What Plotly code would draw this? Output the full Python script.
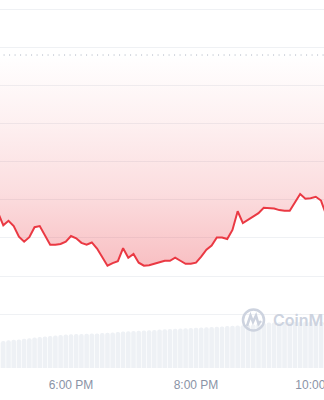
import plotly.graph_objects as go
import pandas as pd

# ---- data (5-minute points) ----
times = pd.date_range("2024-01-15 16:50", "2024-01-15 22:05", freq="5min")
price = [
    1.2066, 1.2033, 1.2045, 1.2031, 1.2003, 1.1990, 1.2002, 1.2028, 1.2031, 1.2008,
    1.1982, 1.1982, 1.1984, 1.1990, 1.2005, 1.1999, 1.1987, 1.1982, 1.1988, 1.1972,
    1.1949, 1.1927, 1.1934, 1.1939, 1.1973, 1.1948, 1.1958, 1.1935, 1.1927, 1.1928,
    1.1932, 1.1936, 1.1940, 1.1940, 1.1948, 1.1940, 1.1932, 1.1932, 1.1935, 1.1951,
    1.1969, 1.1980, 1.2001, 1.2001, 1.1997, 1.2021, 1.2070, 1.2039, 1.2047, 1.2056,
    1.2065, 1.2079, 1.2078, 1.2077, 1.2073, 1.2071, 1.2071, 1.2093, 1.2115, 1.2103,
    1.2104, 1.2108, 1.2098, 1.2060,
]
volume = [
    2.65, 2.70, 2.78, 2.83, 2.86, 2.92, 2.98, 3.04, 3.10, 3.14,
    3.20, 3.26, 3.30, 3.36, 3.38, 3.40, 3.41, 3.43, 3.45, 3.46,
    3.49, 3.53, 3.56, 3.60, 3.64, 3.67, 3.70, 3.72, 3.75, 3.78,
    3.81, 3.84, 3.87, 3.89, 3.92, 3.95, 3.98, 4.00, 4.02, 4.05,
    4.08, 4.10, 4.13, 4.16, 4.19, 4.22, 4.25, 4.27, 4.30, 4.36,
    4.45, 4.50, 4.54, 4.56, 4.58, 4.60, 4.61, 4.62, 4.63, 4.64,
    4.64, 4.65, 4.65, 4.66,
]
open_price = 1.2480
grid_prices = [1.18, 1.19, 1.20, 1.21, 1.22, 1.23, 1.24, 1.25, 1.26]
tick_times = ["2024-01-15 18:00", "2024-01-15 20:00", "2024-01-15 22:00"]

RED = "#ea3943"
W, H = 324, 400
PLOT_H = 368

fig = go.Figure()

fig.add_trace(go.Bar(
    x=times, y=volume, yaxis="y2",
    marker=dict(color="#eef1f5", line=dict(width=0)),
    marker_cornerradius=2,
    hoverinfo="skip",
))

fig.add_trace(go.Scatter(
    x=times, y=[open_price] * len(times),
    mode="lines",
    line=dict(color="#a7afbd", width=1, dash="1px,4.5px"),
    hoverinfo="skip",
))

fig.add_trace(go.Scatter(
    x=times, y=price,
    mode="lines",
    line=dict(color=RED, width=2),
    fill="tonexty",
    fillgradient=dict(
        type="vertical",
        start=min(price), stop=open_price,
        colorscale=[
            [0.0, "rgba(234,57,67,0.32)"],
            [0.35, "rgba(234,57,67,0.17)"],
            [0.7, "rgba(234,57,67,0.07)"],
            [1.0, "rgba(234,57,67,0.0)"],
        ],
    ),
    hoverinfo="skip",
))

# y ranges so that gridlines fall on the reference pixel rows
top_px, step_px = 9.3, 38.1
p_top = 1.26 + top_px / step_px * 0.01
p_bot = 1.26 - (PLOT_H - top_px) / step_px * 0.01

fig.update_layout(
    width=W, height=H,
    margin=dict(l=0, r=0, t=0, b=H - PLOT_H, autoexpand=False),
    paper_bgcolor="white", plot_bgcolor="white",
    showlegend=False,
    bargap=0.12,
    xaxis=dict(
        range=["2024-01-15 16:51:50.4", "2024-01-15 22:02:52.8"],
        tickvals=tick_times, tickformat="%-I:%M %p",
        showgrid=False, zeroline=False, showline=False, ticks="",
        tickfont=dict(family="Liberation Sans, Arial, sans-serif", size=12, color="#8a93a6"),
        ticklabelstandoff=8,
        ticklabeloverflow="allow",
        automargin=False,
    ),
    yaxis=dict(
        range=[p_bot, p_top], tickvals=grid_prices,
        showticklabels=False, showgrid=True, gridcolor="#eff1f4", gridwidth=1,
        zeroline=False, showline=False, ticks="",
    ),
    yaxis2=dict(
        range=[0, 36.8], overlaying="y", showgrid=False, showticklabels=False,
        zeroline=False, showline=False, ticks="",
    ),
)

# watermark
def px(x, y):
    return x / W, 1 - y / PLOT_H

cx, cy, r = 253.5, 320, 10.5
x0, y0 = px(cx - r, cy - r)
x1, y1 = px(cx + r, cy + r)
fig.add_shape(type="circle", xref="paper", yref="paper", x0=x0, y0=y1, x1=x1, y1=y0,
              line=dict(color="#cdd3df", width=2.5), layer="above")
pts = [(247, 326), (250.5, 315.5), (253, 322), (256, 315.5), (258.5, 324), (261, 321)]
path = "M " + " L ".join(f"{px(a, b)[0]:.5f},{px(a, b)[1]:.5f}" for a, b in pts)
fig.add_shape(type="path", xref="paper", yref="paper", path=path,
              line=dict(color="#cdd3df", width=2.5), layer="above")
fig.add_annotation(xref="paper", yref="paper", x=271 / W, y=px(0, 320)[1],
                   xanchor="left", yanchor="middle", showarrow=False,
                   text="CoinMarketCap",
                   font=dict(family="Inter, sans-serif", size=16, weight=600, color="#cdd3df"))

fig.write_html("out.html")
